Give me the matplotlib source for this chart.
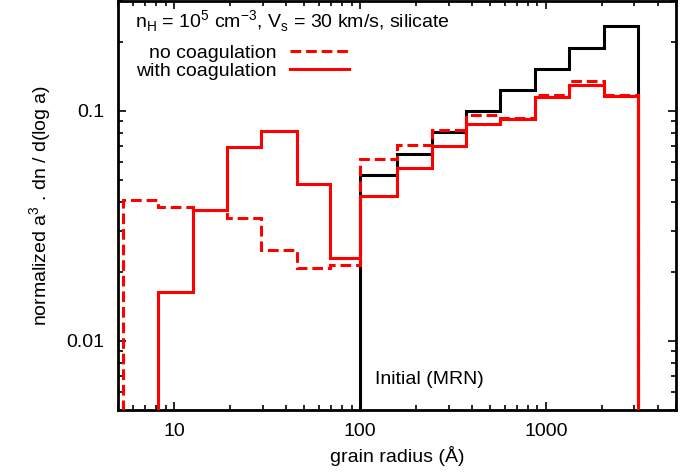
import matplotlib
matplotlib.use("Agg")
import matplotlib.pyplot as plt
from matplotlib.lines import Line2D
from matplotlib.ticker import FixedLocator, FuncFormatter, NullFormatter, LogLocator

plt.rcParams["font.family"] = "Liberation Sans"
plt.rcParams["mathtext.fontset"] = "custom"
plt.rcParams["mathtext.rm"] = "Liberation Sans"
plt.rcParams["font.size"] = 14

# grain-size bin edges (Angstrom)
bin_edges = [5.3, 8.2, 12.6, 19.2, 29.3, 45.6, 68.5, 100, 158, 243, 370, 570,
             875, 1340, 2060, 3150]

# initial MRN distribution, non-zero from 100 A upward
mrn_initial = [0.0523, 0.0649, 0.0805, 0.100, 0.123, 0.152, 0.188, 0.233]

# post-shock distribution without grain-grain coagulation (all bins)
no_coag = [0.041, 0.038, 0.0372, 0.0342, 0.0248, 0.0208, 0.0213, 0.0614,
           0.071, 0.0825, 0.0958, 0.093, 0.117, 0.135, 0.117]

# with coagulation: first bin is below the plotted range
with_coag = [0.0163, 0.0372, 0.0693, 0.0819, 0.0482, 0.0230, 0.0428,
             0.0565, 0.0706, 0.088, 0.092, 0.115, 0.130, 0.116]

RED = "#ff0000"
LW = 2.2
DASH = (0, (3.5, 1.6))
FLOOR = 1e-3

fig = plt.figure(figsize=(6.9, 4.72), dpi=100)
ax = fig.add_axes([118.3 / 690, 1 - 410 / 472, (675.7 - 118.3) / 690, 409 / 472])

ax.stairs(mrn_initial, bin_edges[7:], baseline=FLOOR, color="black", lw=LW, zorder=2)
ax.stairs(no_coag, bin_edges, baseline=FLOOR, color=RED, lw=LW, linestyle=DASH, zorder=3)
ax.stairs(with_coag, bin_edges[1:], baseline=FLOOR, color=RED, lw=LW, zorder=4)

ax.set_xscale("log")
ax.set_yscale("log")
ax.set_xlim(5, 5000)
ax.set_ylim(0.005, 0.3)

ax.xaxis.set_major_locator(FixedLocator([10, 100, 1000]))
ax.yaxis.set_major_locator(FixedLocator([0.01, 0.1]))
ax.xaxis.set_minor_locator(LogLocator(base=10, subs=range(2, 10)))
ax.yaxis.set_minor_locator(LogLocator(base=10, subs=range(2, 10)))
fmt = FuncFormatter(lambda v, pos: f"{v:g}")
ax.xaxis.set_major_formatter(fmt)
ax.yaxis.set_major_formatter(fmt)
ax.xaxis.set_minor_formatter(NullFormatter())
ax.yaxis.set_minor_formatter(NullFormatter())
ax.tick_params(which="both", direction="in", top=True, right=True, width=1.2)
ax.tick_params(which="major", length=6)
ax.tick_params(which="minor", length=3.5)
ax.tick_params(axis="x", which="major", pad=9)
ax.tick_params(axis="y", which="major", pad=10)
for sp in ax.spines.values():
    sp.set_linewidth(2.0)

ax.set_xlabel("grain radius (Å)", labelpad=5)
ax.set_ylabel(r"normalized a$^\mathregular{3}$ . dn / d(log a)", labelpad=9)

fig.text(135 / 690, 1 - 28 / 472,
         r"n$_\mathregular{H}$ = 10$^\mathregular{5}$ cm$^\mathregular{-3}$, "
         r"V$_\mathregular{s}$ = 30 km/s, silicate",
         ha="left", va="baseline")
ax.text(121, 0.0065, "Initial (MRN)", ha="left", va="baseline")

handles = [Line2D([], [], color=RED, lw=LW, linestyle=DASH),
           Line2D([], [], color=RED, lw=LW)]
ax.legend(handles, ["no coagulation", "with coagulation"],
          loc="upper left", bbox_to_anchor=(136 / 690, 1 - 44 / 472),
          bbox_transform=fig.transFigure, frameon=False, markerfirst=False,
          handlelength=3.05, handletextpad=0.67, labelspacing=0.02, borderpad=0,
          borderaxespad=0)

fig.savefig("out.png", dpi=100)
